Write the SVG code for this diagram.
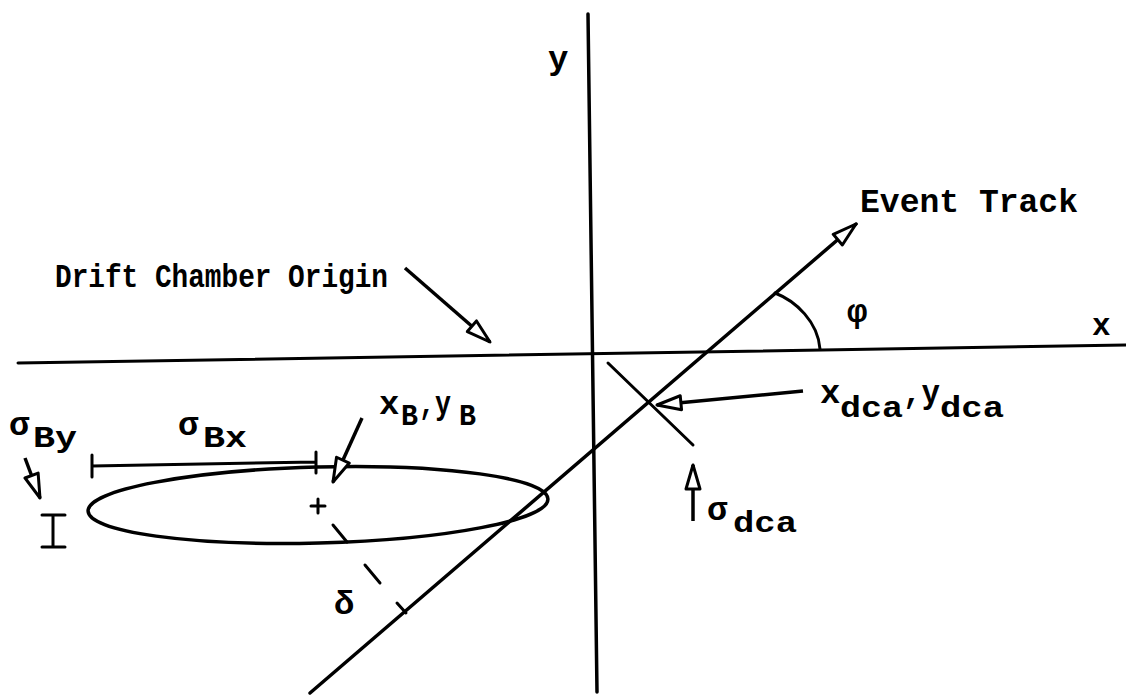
<svg xmlns="http://www.w3.org/2000/svg" width="1126" height="695" viewBox="0 0 1126 695">
<defs>
<marker id="open" viewBox="0 0 28 18" refX="26" refY="9" markerWidth="28" markerHeight="18" markerUnits="userSpaceOnUse" orient="auto">
<path d="M2,2 L26,9 L2,16 Z" fill="#fff" stroke="#000" stroke-width="3" stroke-linejoin="round"/>
</marker>
<style>
.ln{stroke:#000;stroke-width:3;fill:none;stroke-linecap:round}
.thk{stroke:#000;stroke-width:3.5;fill:none;stroke-linecap:round}
.arr{stroke:#000;stroke-width:3.5;fill:none;marker-end:url(#open)}
text{font-family:"Liberation Mono","DejaVu Sans Mono",monospace;font-weight:bold;fill:#000}
.lbl{font-size:34px}
.sub{font-size:29px}
</style>
</defs>
<rect width="1126" height="695" fill="#fff"/>

<g id="axes">
<line class="thk" x1="588" y1="14" x2="597" y2="692"/>
<line class="ln" x1="18" y1="363" x2="1126" y2="345"/>
<text class="lbl" x="548" y="69">y</text>
<text x="1092" y="335" style="font-size:31px">x</text>
</g>

<g id="event-track">
<line class="thk" x1="310" y1="693" x2="856" y2="224" style="marker-end:url(#open)"/>
<text class="lbl" x="860" y="212" textLength="218" lengthAdjust="spacingAndGlyphs">Event Track</text>
</g>

<g id="phi">
<path class="ln" d="M775,293 C796,301 818,322 820,349"/>
<text class="lbl" x="847" y="322">φ</text>
</g>

<g id="origin-label">
<text class="lbl" x="55" y="287" textLength="333" lengthAdjust="spacingAndGlyphs">Drift Chamber Origin</text>
</g>

<g id="dca">
<line class="ln" x1="608" y1="363" x2="693" y2="445"/>
<text class="lbl" x="820" y="403">x<tspan class="sub" x="840" y="417" textLength="63" lengthAdjust="spacingAndGlyphs">dca</tspan><tspan x="903" y="403" textLength="37" lengthAdjust="spacingAndGlyphs">,y</tspan><tspan class="sub" x="940" y="417" textLength="64" lengthAdjust="spacingAndGlyphs">dca</tspan></text>
<text class="lbl" x="707" y="520">σ<tspan class="sub" x="733" y="532" textLength="64" lengthAdjust="spacingAndGlyphs">dca</tspan></text>
</g>

<g id="beam-spot">
<ellipse class="thk" cx="318" cy="505" rx="230" ry="38" transform="rotate(-1.5 318 505)"/>
<path class="ln" d="M311,506 L325,506 M318,499 L318,513"/>
<path class="ln" d="M92,466 L316,462 M92,455 L92,477 M316,452 L316,473"/>
<text class="lbl" x="178" y="435">σ<tspan class="sub" x="203" y="447" textLength="44" lengthAdjust="spacingAndGlyphs">Bx</tspan></text>
<text class="lbl" x="9" y="435">σ<tspan class="sub" x="33" y="447" textLength="44" lengthAdjust="spacingAndGlyphs">By</tspan></text>
<path class="ln" d="M42,515 L65,515 M53,515 L53,547 M42,547 L65,547"/>
<text class="lbl" x="379" y="414">x<tspan class="sub" x="401" y="425" textLength="17" lengthAdjust="spacingAndGlyphs">B</tspan><tspan x="419" y="414" textLength="32" lengthAdjust="spacingAndGlyphs">,y</tspan><tspan class="sub" x="459" y="425" textLength="17" lengthAdjust="spacingAndGlyphs">B</tspan></text>
</g>

<g id="delta">
<path class="ln" d="M333,525 L347,542 M365,565 L380,583 M397,603 L406,613"/>
<text class="lbl" x="334" y="614">δ</text>
</g>

<g id="connectors">
<line class="arr" x1="405" y1="268" x2="490" y2="342"/>
<line class="arr" x1="803" y1="391" x2="657" y2="405"/>
<line class="arr" x1="693" y1="521" x2="693" y2="465"/>
<line class="arr" x1="362" y1="418" x2="333" y2="482"/>
<line class="arr" x1="25" y1="458" x2="40" y2="498"/>
</g>
</svg>
